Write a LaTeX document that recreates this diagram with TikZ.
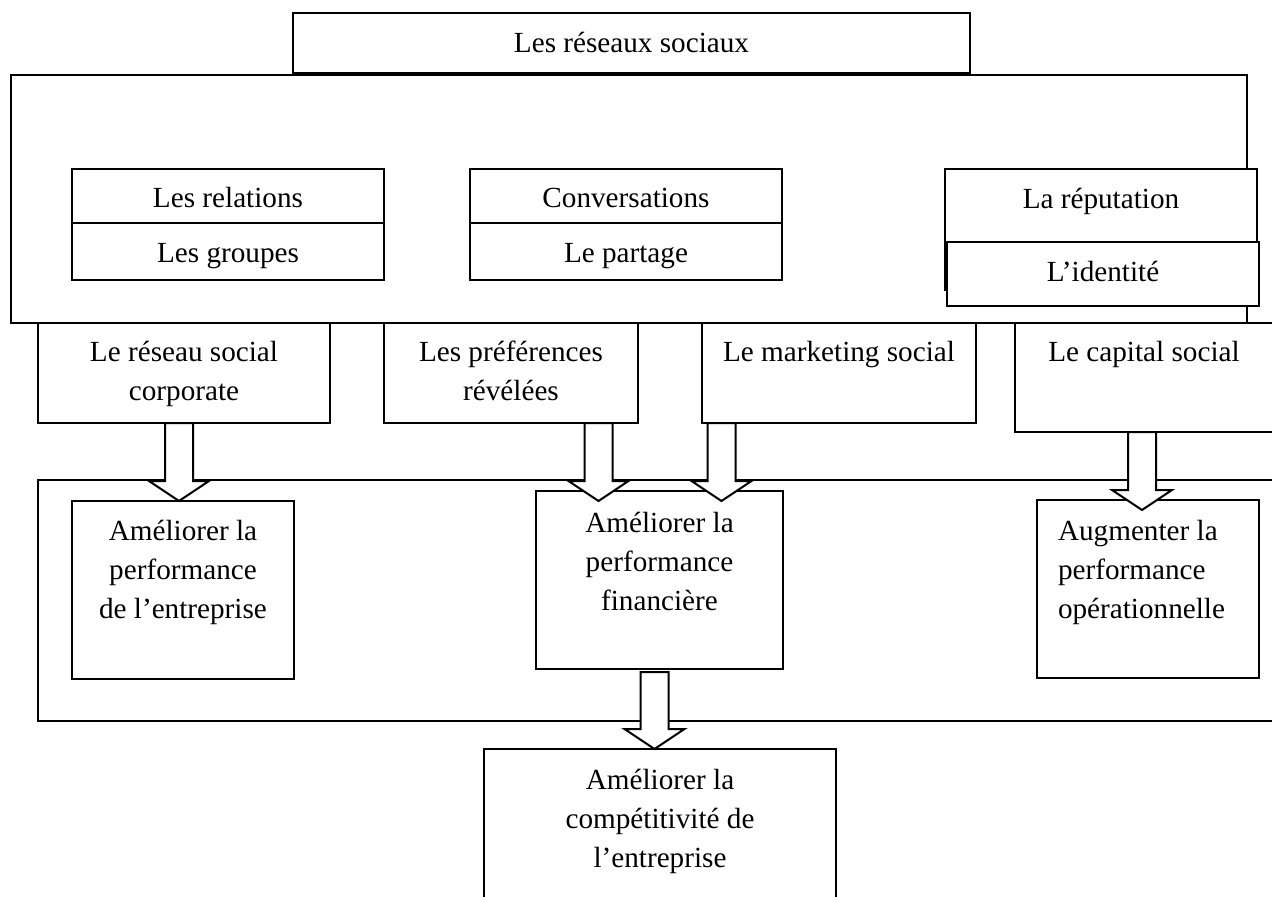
\documentclass[tikz,border=0pt]{standalone}
\usepackage{fontspec}
\setmainfont{Liberation Serif}
\usetikzlibrary{calc}
\newdimen\pxu \pxu=0.5pt
% box text: width px, height px, first baseline offset px, text
\newcommand{\bt}[4]{\parbox[t][#2\pxu][t]{#1\pxu}{\centering\vspace*{\dimexpr#3\pxu-13.65pt\relax}\strut#4}}
% left aligned variant: width, height, baseline offset, left indent (px), text
\newcommand{\btl}[5]{\parbox[t][#2\pxu][t]{#1\pxu}{\raggedright\leftskip=#4\pxu\vspace*{\dimexpr#3\pxu-13.65pt\relax}\strut#5}}
% block arrow: source, target, axis x (px), start offset (px), tip offset (px)
\newcommand{\barrow}[5]{\draw[barr] let \p1=($(#1.south)+(0,#4)$), \p2=($(#2.north)+(0,#5)$), \p3=(#3,0) in
  (\x3-7pt,\y1) -- (\x3-7pt,\y2+10pt) -- (\x3-15pt,\y2+10pt) -- (\x3,\y2) -- (\x3+15pt,\y2+10pt) -- (\x3+7pt,\y2+10pt) -- (\x3+7pt,\y1) -- cycle;}
\begin{document}
\begin{tikzpicture}[x=0.5pt,y=-0.5pt,
  box/.style={draw, fill=white, line width=1pt, inner sep=0pt, outer sep=0pt, anchor=north west,
    font=\fontsize{14.6pt}{19.5pt}\selectfont},
  frame/.style={draw, line width=0.8pt, inner sep=0pt, outer sep=0pt, anchor=north west},
  barr/.style={draw, fill=white, line width=1pt, line join=miter}]
\clip (0,0) rectangle (1272,897);
% upper frame
\node[frame, minimum width=618pt, minimum height=124pt] (soc) at (11,75) {};
\node[box] (top) at (293,13) {\bt{677}{60}{40}{Les réseaux sociaux}};
% inner boxes
\node[box] (rel) at (72,169) {\bt{312}{54}{39}{Les relations}};
\node[box] (grp) at (72,223) {\bt{312}{57}{40}{Les groupes}};
\node[box] (conv) at (470,169) {\bt{312}{54}{39}{Conversations}};
\node[box] (part) at (470,223) {\bt{312}{57}{40}{Le partage}};
\node[box] (rep) at (945,169) {\bt{312}{121}{40}{La réputation}};
\node[box] (ident) at (947,242) {\bt{312}{64}{40}{L’identité}};
% second row
\node[box] (rc) at (38,323) {\bt{292}{100}{39}{Le réseau social\\corporate}};
\node[box] (pref) at (384,323) {\bt{254}{100}{39}{Les préférences\\révélées}};
\node[box] (mkt) at (702,323) {\bt{274}{100}{39}{Le marketing social}};
\node[box] (cap) at (1015,323) {\bt{258}{109}{39}{Le capital social}};
% lower frame
\node[frame, minimum width=630pt, minimum height=120.5pt] (perf) at (38,480) {};
\node[box] (e1) at (72,501) {\bt{222}{178}{39}{Améliorer la\\performance\\de l’entreprise}};
\node[box] (fin) at (536,491) {\bt{247}{178}{41}{Améliorer la\\performance\\financière}};
\node[box] (op) at (1037,500) {\btl{222}{178}{40}{21}{Augmenter la\\performance\\opérationnelle}};
\node[box] (comp) at (484,749) {\bt{352}{200}{40}{Améliorer la\\compétitivité de\\l’entreprise}};
% block arrows
\barrow{rc}{e1}{179}{0}{0}
\barrow{pref}{fin}{598.5}{0}{10}
\barrow{mkt}{fin}{721.5}{0}{10}
\barrow{cap}{op}{1142}{0}{10}
\barrow{fin}{comp}{654.5}{3}{0}
\end{tikzpicture}
\end{document}
